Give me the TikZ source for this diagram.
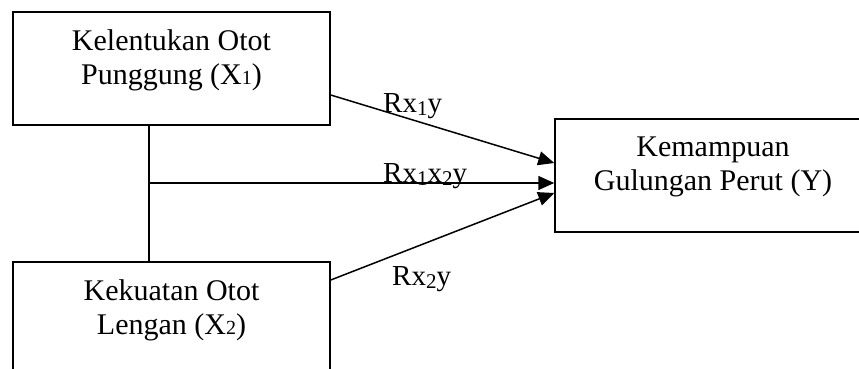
\documentclass[tikz,border=0pt]{standalone}
\usepackage{fontspec}
\setmainfont{Liberation Serif}
\usetikzlibrary{arrows.meta, positioning, calc}
\newcommand{\smalldigit}[1]{{\fontsize{20}{20}\selectfont #1}}
\newcommand{\lowdigit}[1]{\raisebox{-3pt}{\fontsize{21}{21}\selectfont #1}}

\begin{document}
\begin{tikzpicture}[
    x=1pt, y=-1pt,
    every node/.style={font=\fontsize{30}{34}\selectfont},
    box/.style={rectangle, draw=black, line width=1.5pt, minimum width=317pt,
                minimum height=113pt, inner sep=0pt},
    txt/.style={align=center, inner sep=0pt, anchor=north},
    lab/.style={inner sep=0pt, anchor=base west, font=\fontsize{29}{33}\selectfont},
    arr/.style={-{Triangle[length=16pt, width=14pt]}, line width=1.5pt},
    conn/.style={line width=1.5pt},
]
\useasboundingbox (0,0) rectangle (859,369);
\clip (0,0) rectangle (859,369);

% ---------------------------------------------------------------- boxes
\node[box] (x1) at (171.5, 68.5) {};
\node[box] (x2) at (171.5, 318.5) {};
\node[box, minimum width=316pt] (y) at (713, 175.5) {};

\node[txt] (x1t) at ([yshift=-18pt]x1.north) {Kelentukan Otot\\ Punggung (X\smalldigit{1})};
\node[txt] (x2t) at ([yshift=-18pt]x2.north) {Kekuatan Otot\\ Lengan (X\smalldigit{2})};
\node[txt] (yt) at ([yshift=-18pt]y.north) {Kemampuan\\ Gulungan Perut (Y)};

% ---------------------------------------------------------------- connectors
\draw[conn] ([xshift=-22.5pt]x1.south) -- ([xshift=-22.5pt]x2.north);
\coordinate (mid) at (149, 183);
\draw[arr] ([yshift=-26.5pt]x1.east) -- ([yshift=12.5pt]y.west);
\draw[arr] (mid) -- (mid -| y.west);
\draw[arr] ([yshift=38.5pt]x2.east) -- ([yshift=-17.5pt]y.west);

\node[lab] (r1) at (383, 112) {Rx\lowdigit{1}y};
\node[lab] (r12) at (383, 182) {Rx\lowdigit{1}x\lowdigit{2}y};
\node[lab] (r2) at (392, 285) {Rx\lowdigit{2}y};

\end{tikzpicture}
\end{document}
